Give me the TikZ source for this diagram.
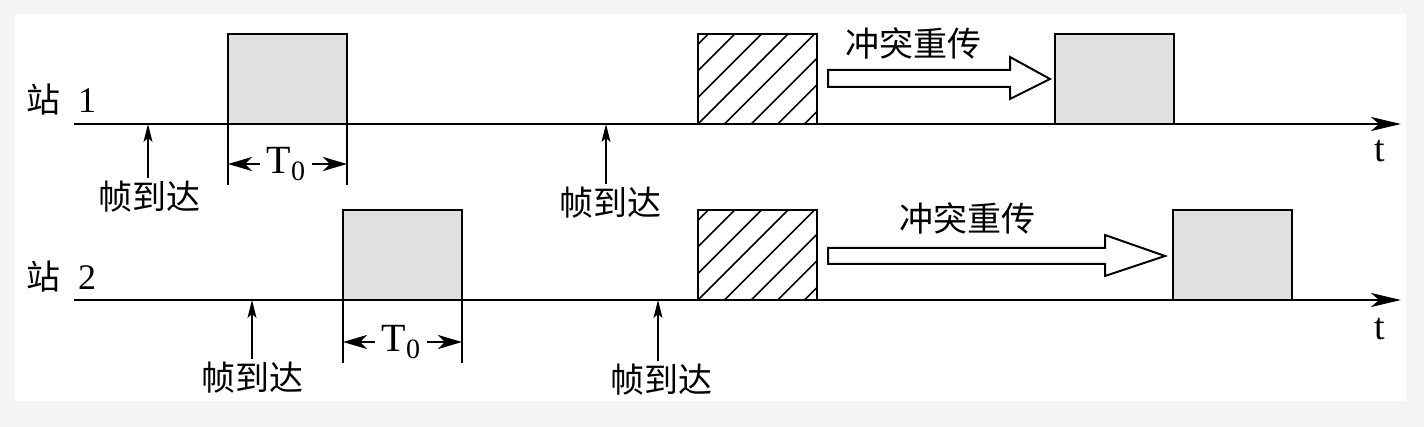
\documentclass[tikz,border=0pt]{standalone}
\usepackage{fontspec}
\setmainfont{Liberation Serif}
\newfontfamily\cjk{Noto Sans CJK SC}
\usetikzlibrary{arrows.meta}
\definecolor{bggray}{RGB}{244,244,244}
\definecolor{boxgray}{RGB}{224,224,224}
\begin{document}
\begin{tikzpicture}[x=0.5pt,y=-0.5pt,
  axisline/.style={line width=1.3pt,-{Stealth[length=15pt,width=7pt,inset=4pt]}},
  framebox/.style={draw,line width=1pt,fill=boxgray,minimum width=59.5pt,minimum height=45pt,anchor=south west,inner sep=0pt,outer sep=0pt},
  hatchbox/.style={draw,line width=1pt,fill=white,minimum width=59.5pt,minimum height=45pt,anchor=south west,inner sep=0pt,outer sep=0pt,
    path picture={\foreach \k in {-5,...,5}{\draw[line width=0.8pt] ([xshift=\k*13.3pt]path picture bounding box.south west) -- ++(60pt,60pt);}}},
  arrivearrow/.style={line width=0.8pt,-{Stealth[length=9pt,width=4.5pt,inset=2pt]}},
  arrivetext/.style={font=\cjk\fontsize{17}{19}\selectfont,inner sep=1.5pt},
  cjktext/.style={font=\cjk\fontsize{17}{19}\selectfont,inner sep=0pt},
  dimline/.style={line width=0.9pt},
  dimarrow/.style={line width=1.2pt,-{Stealth[length=12pt,width=7pt,inset=3.5pt]}},
  dimtext/.style={font=\fontsize{20}{22}\selectfont,inner sep=3pt},
  tlabel/.style={font=\fontsize{19}{21}\selectfont,inner sep=0pt},
  stlabel/.style={font=\fontsize{18}{20}\selectfont,inner sep=0pt},
  hollow/.style={draw,line width=1pt,fill=white,line join=miter}
]
\useasboundingbox (0,0) rectangle (1424,427);
\fill[bggray] (0,0) rectangle (1424,427);
\fill[white] (15,14) rectangle (1406,401);

% ---------- Station 1 ----------
\node[stlabel] (st1) at (61,100) {{\cjk\fontsize{17}{19}\selectfont 站}\hspace{9pt}1};
\coordinate (ax1s) at (74,124);
\coordinate (ax1e) at (1401,124);
\node[framebox] (b11) at (228,124) {};
\node[hatchbox] (h1) at (698,124) {};
\node[framebox] (b12) at (1055,124) {};
\draw[axisline] (ax1s) -- (ax1e);
\node[tlabel] (t1) at (1380,151) {t};

\coordinate (a11) at (148,124);
\node[arrivetext] (l11) at (149,197) {帧到达};
\draw[arrivearrow] (l11.north -| a11) -- (a11);
\coordinate (a12) at (606,124);
\node[arrivetext] (l12) at (610,203) {帧到达};
\draw[arrivearrow] (l12.north -| a12) -- (a12);

\coordinate (d11) at (228,185);
\coordinate (d12) at (347,185);
\draw[dimline] (b11.south west) -- (d11);
\draw[dimline] (b11.south east) -- (d12);
\node[dimtext] (T1) at (286,164) {T\raisebox{-0.4ex}{\fontsize{14}{14}\selectfont 0}};
\draw[dimarrow] (T1.west) -- (T1.west -| d11);
\draw[dimarrow] (T1.east) -- (T1.east -| d12);

\node[cjktext] (c1) at (913,43) {冲突重传};
\draw[hollow] (828,70) -- (1010,70) -- (1010,57) -- (1050,79) -- (1010,99) -- (1010,87) -- (828,87) -- cycle;

% ---------- Station 2 ----------
\node[stlabel] (st2) at (61,277) {{\cjk\fontsize{17}{19}\selectfont 站}\hspace{9pt}2};
\coordinate (ax2s) at (74,300);
\coordinate (ax2e) at (1401,300);
\node[framebox] (b21) at (343,300) {};
\node[hatchbox] (h2) at (698,300) {};
\node[framebox] (b22) at (1173,300) {};
\draw[axisline] (ax2s) -- (ax2e);
\node[tlabel] (t2) at (1380,329) {t};

\coordinate (a21) at (252,300);
\node[arrivetext] (l21) at (252,378) {帧到达};
\draw[arrivearrow] (l21.north -| a21) -- (a21);
\coordinate (a22) at (658,300);
\node[arrivetext] (l22) at (661,380) {帧到达};
\draw[arrivearrow] (l22.north -| a22) -- (a22);

\coordinate (d21) at (343,363);
\coordinate (d22) at (462,363);
\draw[dimline] (b21.south west) -- (d21);
\draw[dimline] (b21.south east) -- (d22);
\node[dimtext] (T2) at (401,342) {T\raisebox{-0.4ex}{\fontsize{14}{14}\selectfont 0}};
\draw[dimarrow] (T2.west) -- (T2.west -| d21);
\draw[dimarrow] (T2.east) -- (T2.east -| d22);

\node[cjktext] (c2) at (967,218) {冲突重传};
\draw[hollow] (828,248) -- (1105,248) -- (1105,235) -- (1165,256) -- (1105,276) -- (1105,264) -- (828,264) -- cycle;
\end{tikzpicture}
\end{document}
